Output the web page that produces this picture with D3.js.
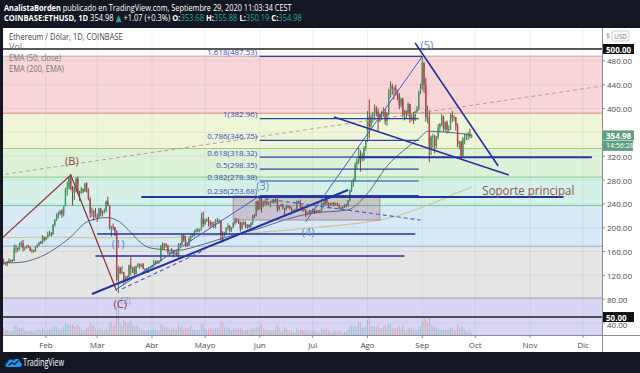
<!DOCTYPE html>
<html>
<head>
<meta charset="utf-8">
<script src="https://cdn.jsdelivr.net/npm/d3@7"></script>
<style>
html, body { margin: 0; padding: 0; background: #131722; }
svg { display: block; font-family: "Open Sans", "DejaVu Sans", sans-serif; }
</style>
</head>
<body>
<div id="chart"></div>
<script>
// ---- data (ETH/USD daily, Coinbase) ----
const startDate = "2020-01-05";

const opens = [134.2,135.1,144.3,142.8,141.0,138.2,143.6,142.2,146.0,144.1,165.4,166.2,163.7,171.2,174.0,166.3,167.0,169.3,167.9,162.2,162.5,160.6,167.9,170.4,175.5,174.0,184.7,
179.6,183.5,188.6,189.9,188.6,204.4,212.8,222.6,223.2,228.4,223.6,236.1,265.1,268.3,284.2,264.7,258.9,267.9,282.3,258.7,258.3,265.1,261.2,274.4,265.6,248.2,225.1,227.4,226.6,
218.5,217.9,231.6,224.4,224.8,228.3,244.0,237.5,199.5,201.5,200.6,194.9,112.3,133.2,123.3,125.2,110.6,117.7,117.5,136.6,132.6,132.9,122.6,135.8,138.6,136.2,138.7,130.8,131.3,125.3,132.4,
133.6,136.3,141.3,141.5,144.2,142.9,169.7,164.5,173.3,170.6,158.3,158.5,161.5,156.7,157.8,153.2,171.8,171.2,187.2,180.0,170.8,170.6,182.2,184.8,187.2,194.4,197.2,196.6,196.6,216.3,
206.4,212.6,213.4,210.5,207.1,205.9,204.2,212.1,212.1,211.9,188.7,186.9,190.2,199.4,202.6,194.6,200.0,207.2,214.2,213.2,209.8,198.3,208.8,206.9,201.0,204.5,201.1,208.6,220.8,220.6,243.7,
231.4,248.0,237.2,244.1,243.8,240.7,242.0,244.3,245.2,243.9,247.9,230.6,236.9,238.8,233.2,231.4,235.6,236.2,233.6,228.9,229.6,228.8,243.6,243.1,235.6,232.6,230.4,222.5,226.0,228.6,
226.1,231.0,228.4,226.4,228.9,227.7,241.1,238.8,246.8,242.3,240.7,239.2,241.8,239.4,241.2,238.7,233.4,232.7,235.2,238.9,236.3,245.3,262.8,274.8,279.2,305.7,311.3,321.2,317.0,318.1,334.0,
345.5,386.0,370.2,386.5,389.9,401.6,394.9,379.3,391.3,390.5,394.6,379.4,392.5,428.3,437.6,433.4,433.8,429.5,423.3,406.5,416.4,389.1,395.8,391.4,407.5,382.6,385.6,381.2,395.0,399.1,428.4,
434.9,476.9,439.7,385.7,385.8,333.9,352.6,353.6,337.1,351.8,368.1,374.0,386.8,365.7,377.4,364.8,365.5,389.0,384.4,385.6,371.1,340.8,344.6,321.0,349.5,351.9,354.9,356.4,353.68];

const highs = [138.0,144.8,145.6,148.0,141.5,144.0,148.5,146.5,146.6,171.5,171.7,167.0,175.0,178.0,179.2,168.0,170.5,171.2,168.0,164.5,162.9,168.4,172.5,176.0,177.9,187.5,185.0,
184.5,193.3,195.0,192.6,206.0,215.0,224.0,227.0,229.0,231.0,237.0,266.5,277.0,285.0,290.0,270.0,269.0,284.0,286.0,262.0,268.5,266.0,275.0,276.0,266.0,251.0,234.0,230.0,233.0,
223.0,233.0,233.5,229.0,232.0,245.5,252.0,238.0,203.0,207.0,201.0,195.5,136.0,133.7,136.0,125.5,119.0,119.5,138.0,150.0,134.5,135.0,136.0,141.0,140.0,140.0,140.5,132.0,132.0,134.0,135.0,
137.0,146.0,145.0,145.0,144.5,171.0,175.0,174.0,173.5,171.0,160.0,166.0,161.6,160.0,161.0,174.0,174.5,189.0,188.0,186.0,174.0,184.0,191.0,190.0,196.0,198.5,199.0,198.5,225.0,227.0,
215.0,216.0,218.0,212.0,210.0,210.0,214.5,216.5,214.0,212.0,194.0,193.0,201.0,207.0,204.0,201.0,210.0,216.0,216.0,215.0,210.0,210.0,211.0,210.0,206.0,206.0,209.5,221.5,223.0,245.0,246.0,
253.0,251.0,245.5,246.0,246.0,243.5,245.0,247.0,247.0,251.0,249.0,238.0,240.0,240.0,233.5,238.0,238.0,237.0,234.5,230.5,232.0,246.0,245.0,247.0,236.0,234.0,231.0,227.0,229.5,229.0,
232.5,232.0,229.0,229.5,229.0,242.0,242.5,248.0,247.0,242.5,241.5,242.5,243.0,242.0,242.0,239.0,235.0,236.5,239.5,240.0,246.5,264.0,278.0,283.0,310.0,317.0,335.0,330.0,326.0,337.0,347.0,
396.0,415.0,391.0,394.5,407.0,404.0,400.5,392.0,396.0,402.0,399.0,394.0,433.0,446.0,442.0,437.0,440.0,431.0,426.0,419.0,418.0,398.0,397.0,411.0,408.0,392.0,394.0,396.0,404.0,430.0,442.0,
487.5,478.0,451.0,405.0,397.0,355.0,358.0,356.0,354.0,374.0,376.0,391.0,388.0,379.0,380.0,372.0,392.0,396.0,389.5,386.0,375.0,346.0,346.0,352.0,358.0,358.0,361.0,366.0,355.88];

const lows = [133.5,134.8,139.6,138.0,136.8,135.2,141.0,141.2,142.3,143.9,157.5,159.5,162.0,167.0,160.0,161.6,164.7,166.4,160.4,157.6,158.4,159.2,165.4,169.0,172.5,172.4,176.2,
178.8,182.0,186.0,185.3,187.6,202.1,211.0,216.0,221.0,216.7,219.0,236.0,254.0,264.0,263.0,237.5,246.0,259.0,257.0,245.0,257.0,258.0,260.0,259.0,246.0,217.0,218.0,212.0,217.0,
210.0,216.0,219.0,219.0,224.0,226.0,236.0,197.0,185.0,196.0,186.0,110.0,90.0,122.0,122.5,103.5,108.0,111.0,115.0,120.0,124.0,120.0,121.0,133.0,131.0,134.0,130.0,124.0,124.5,124.0,130.8,
128.0,134.0,138.0,139.0,139.5,142.5,163.0,163.5,166.5,155.0,154.0,157.0,150.0,154.0,152.5,149.0,168.5,170.5,176.0,168.0,168.0,169.5,177.0,183.5,186.0,192.0,192.5,192.0,195.5,201.0,
204.0,209.5,202.0,199.0,202.0,199.0,199.0,209.0,207.0,178.0,175.0,185.0,188.0,196.0,192.0,193.0,199.0,204.0,208.0,206.0,193.0,196.5,204.0,199.0,198.0,199.0,200.0,205.0,216.0,219.0,228.0,
230.0,225.0,234.5,237.0,238.0,238.5,234.0,241.0,240.0,241.5,227.0,229.0,235.0,231.0,218.0,229.0,233.0,231.0,227.0,225.0,227.5,228.0,240.0,231.0,227.0,227.0,218.0,221.0,222.0,224.0,
224.5,223.0,224.5,225.5,224.0,227.0,237.0,237.5,237.5,235.0,237.0,237.0,236.0,236.5,237.0,230.0,231.0,231.5,233.0,234.5,235.5,244.0,260.0,269.0,278.0,298.0,307.0,294.0,311.0,312.0,329.0,
344.0,350.0,365.0,376.0,381.0,387.0,362.0,377.0,381.0,386.0,373.0,371.0,388.0,418.0,423.0,415.0,422.0,414.0,399.0,402.0,385.0,380.0,384.0,387.0,376.0,379.0,374.0,379.0,393.0,397.0,424.0,
431.0,426.0,378.0,375.0,310.0,322.0,334.0,325.0,333.0,348.0,360.0,370.0,361.0,362.0,358.0,359.0,364.0,377.0,379.0,363.0,335.0,332.0,315.0,318.0,340.0,347.0,347.0,350.0,350.19];

const closes = [135.1,144.3,142.8,141.0,138.2,143.6,142.2,146.0,144.1,165.4,166.2,163.7,171.2,174.0,166.3,167.0,169.3,167.9,162.2,162.5,160.6,167.9,170.4,175.5,174.0,184.7,179.6,
183.5,188.6,189.9,188.6,204.4,212.8,222.6,223.2,228.4,223.6,236.1,265.1,268.3,284.2,264.7,258.9,267.9,282.3,258.7,258.3,265.1,261.2,274.4,265.6,248.2,225.1,227.4,226.6,218.5,
217.9,231.6,224.4,224.8,228.3,244.0,237.5,199.5,201.5,200.6,194.9,112.3,133.2,123.3,125.2,110.6,117.7,117.5,136.6,132.6,132.9,122.6,135.8,138.6,136.2,138.7,130.8,131.3,125.3,132.4,133.6,
136.3,141.3,141.5,144.2,142.9,169.7,164.5,173.3,170.6,158.3,158.5,161.5,156.7,157.8,153.2,171.8,171.2,187.2,180.0,170.8,170.6,182.2,184.8,187.2,194.4,197.2,196.6,196.6,216.3,206.4,
212.6,213.4,210.5,207.1,205.9,204.2,212.1,212.1,211.9,188.7,186.9,190.2,199.4,202.6,194.6,200.0,207.2,214.2,213.2,209.8,198.3,208.8,206.9,201.0,204.5,201.1,208.6,220.8,220.6,243.7,231.4,
248.0,237.2,244.1,243.8,240.7,242.0,244.3,245.2,243.9,247.9,230.6,236.9,238.8,233.2,231.4,235.6,236.2,233.6,228.9,229.6,228.8,243.6,243.1,235.6,232.6,230.4,222.5,226.0,228.6,226.1,
231.0,228.4,226.4,228.9,227.7,241.1,238.8,246.8,242.3,240.7,239.2,241.8,239.4,241.2,238.7,233.4,232.7,235.2,238.9,236.3,245.3,262.8,274.8,279.2,305.7,311.3,321.2,317.0,318.1,334.0,345.5,
386.0,370.2,386.5,389.9,401.6,394.9,379.3,391.3,390.5,394.6,379.4,392.5,428.3,437.6,433.4,433.8,429.5,423.3,406.5,416.4,389.1,395.8,391.4,407.5,382.6,385.6,381.2,395.0,399.1,428.4,434.9,
476.9,439.7,385.7,385.8,333.9,352.6,353.6,337.1,351.8,368.1,374.0,386.8,365.7,377.4,364.8,365.5,389.0,384.4,385.6,371.1,340.8,344.6,321.0,349.5,351.9,354.9,356.4,353.7,354.98];

// volume, thousands of ETH
const volumes = [180,320,290,380,260,250,200,190,210,520,560,330,380,360,400,230,220,200,240,250,180,190,260,300,230,380,280,
210,300,330,310,440,420,430,320,300,380,400,620,600,530,520,560,480,430,560,420,310,200,260,390,400,620,480,520,330,
260,340,330,260,240,390,300,640,700,500,520,1500,1800,600,500,800,700,560,650,800,520,420,520,500,390,300,330,240,200,300,260,
280,330,290,260,220,560,520,420,340,420,300,300,380,300,320,560,380,500,320,400,320,400,480,300,260,250,280,260,560,600,
360,260,340,380,330,300,380,380,300,700,700,420,340,400,340,240,320,380,300,320,380,320,200,260,320,260,300,360,300,420,400,
460,560,320,300,260,200,260,220,240,300,520,340,180,200,420,300,260,220,260,160,160,380,260,300,280,240,300,180,220,220,
240,230,180,130,140,360,260,330,300,260,140,170,250,220,230,260,190,130,150,200,280,460,480,420,500,430,700,640,380,440,450,
800,1000,480,460,440,420,500,360,300,420,520,420,600,600,380,300,380,360,460,320,480,300,220,360,420,340,360,300,260,420,420,
700,900,800,650,900,560,440,450,380,340,300,300,260,320,300,300,380,380,260,280,560,400,420,420,300,200,180,280,120];

// indicator lines read at sample dates
const ema50Dates  = ["2020-01-05","2020-01-13","2020-01-31","2020-02-14","2020-02-25","2020-03-07","2020-03-11","2020-03-31","2020-04-15","2020-04-30","2020-05-15","2020-05-31","2020-06-15","2020-06-30","2020-07-21","2020-07-31","2020-08-12","2020-08-31","2020-09-04","2020-09-16","2020-09-29"];
const ema50Values = [142,141,154,182,211,217,214,166,162,172,186,198,213,224,230,254,303,352,362,360,356];
const ema200Dates  = ["2020-01-05","2020-02-03","2020-03-03","2020-03-31","2020-04-28","2020-05-26","2020-06-24","2020-07-22","2020-08-08","2020-08-19","2020-08-31","2020-09-11","2020-09-22","2020-09-29"];
const ema200Values = [183,184.5,183,183,186,191,198,206,213,221,233,246,260,268];

// background fib retracement (0 at top, 1 at bottom)
const fibTop = 488, fibBottom = 82;
const fibRatios = [0, 0.236, 0.382, 0.5, 0.618, 0.786, 1, 1.618];

// labelled fib retracement
const fibLabels = ["1.618", "1", "0.786", "0.618", "0.5", "0.382", "0.236"];
const fibPrices = [487.53, 382.96, 346.75, 318.32, 298.35, 278.38, 253.68];

// axes
const priceTicks = [40, 80, 120, 160, 200, 240, 280, 320, 360, 400, 440, 480];
const monthNames = ["Feb", "Mar", "Abr", "Mayo", "Jun", "Jul", "Ago", "Sep", "Oct", "Nov", "Dic"];

// drawings: [date, price] pairs
const waveBC = [["2020-01-06", 179.4], ["2020-02-15", 288.5], ["2020-03-12", 93.7]];
const trendMain = [["2020-02-27", 88.7], ["2020-07-21", 263.3]];
const wave23 = [["2020-03-12", 97], ["2020-05-31", 251.6]];
const wave45 = [["2020-06-27", 210], ["2020-09-01", 487.5]];
const dashedBlue = [[["2020-05-31", 250], ["2020-08-31", 212.9]], [["2020-03-15", 97], ["2020-05-01", 162.6]]];
const wedgeUpper = [["2020-08-28", 510], ["2020-10-14", 303.6]];
const wedgeLower = [["2020-07-13", 386], ["2020-10-20", 288.5]];
const dashedGray = [["2020-01-01", 286.3], ["2020-12-12", 437.9]];
const hLines = [
  { price: 318.3, from: "2020-07-27", to: "2020-12-06" },
  { price: 251.6, from: "2020-03-26", to: "2020-11-20" },
  { price: 189.4, from: "2020-03-01", to: "2020-08-28" },
  { price: 152.5, from: "2020-02-29", to: "2020-08-22" }
];
const boxCorners = [["2020-05-17", 253.2], ["2020-08-08", 212.9]];
const waveLabels = [
  { text: "(B)", at: ["2020-02-15T16:00Z", 312] },
  { text: "(1)", at: ["2020-03-12T20:00Z", 174] },
  { text: "(C)", at: ["2020-03-14T00:00Z", 72] },
  { text: "(2)", at: ["2020-03-17T00:00Z", 78] },
  { text: "(3)", at: ["2020-06-02T16:00Z", 271] },
  { text: "(4)", at: ["2020-06-28T10:00Z", 194] },
  { text: "(5)", at: ["2020-09-03T16:00Z", 507] }
];
const supportText = { text: "Soporte principal", at: ["2020-10-05T00:00Z", 255] };

// ---- setup ----
const W = 640, H = 373;
const plot = { left: 3, right: 602, top: 28, bottom: 335 };

const parseDay = d3.utcParse("%Y-%m-%d");
const toDate = s => s.length > 10 ? new Date(s) : parseDay(s);
const t0 = parseDay(startDate);
const candles = closes.map((c, i) => ({
  date: d3.utcDay.offset(t0, i), o: opens[i], h: highs[i], l: lows[i], c: c, v: volumes[i]
}));

const x = d3.scaleUtc()
  .domain([parseDay("2020-01-01"), parseDay("2020-12-01")])
  .range([-8.75, 583]);
const y = d3.scaleLinear().domain([40, 500]).range([323, 49]);
const vol = d3.scaleLinear().domain([0, d3.max(volumes)]).range([0, 34]);
const px = p => [x(toDate(p[0])), y(p[1])];

const svg = d3.select("#chart").append("svg").attr("width", W).attr("height", H);
svg.append("rect").attr("width", W).attr("height", H).attr("fill", "#131722");
svg.append("rect").attr("x", 3).attr("y", 28).attr("width", W - 3).attr("height", 352 - 28).attr("fill", "#fff");

svg.append("defs").append("clipPath").attr("id", "clip").append("rect")
  .attr("x", plot.left).attr("y", plot.top)
  .attr("width", plot.right - plot.left).attr("height", plot.bottom - plot.top);

const g = svg.append("g").attr("clip-path", "url(#clip)");

// FIB BACKGROUND BANDS
const levelPrice = r => fibTop + (fibBottom - fibTop) * r;
const bandFills = ["#f8d5d7", "#eff6d8", "#def2d8", "#d5f0e6", "#d6e9f4", "#e5e5e6", "#d8d6f3"];
const levelLines = ["#b9a3a6", "#d38b8b", "#a9c97c", "#7fcb84", "#6cc3ad", "#86acd2", "#a3a3a8", "#a39fd8"];

g.selectAll("rect.band")
  .data(fibRatios.slice(0, -1))
  .join("rect")
  .attr("class", "band")
  .attr("x", plot.left).attr("width", plot.right - plot.left)
  .attr("y", r => y(levelPrice(r)))
  .attr("height", (r, i) => y(levelPrice(fibRatios[i + 1])) - y(levelPrice(r)))
  .attr("fill", (r, i) => bandFills[i]);

// grid
const months = d3.utcMonths(parseDay("2020-02-01"), parseDay("2020-12-02"));
g.selectAll("line.vgrid").data(months).join("line")
  .attr("x1", d => x(d)).attr("x2", d => x(d))
  .attr("y1", plot.top).attr("y2", plot.bottom)
  .attr("stroke", "rgba(40,50,80,0.07)");
g.selectAll("line.hgrid").data(priceTicks).join("line")
  .attr("x1", plot.left).attr("x2", plot.right)
  .attr("y1", d => y(d)).attr("y2", d => y(d))
  .attr("stroke", "rgba(40,50,80,0.06)");

g.selectAll("line.level")
  .data(fibRatios.slice(0, -1))
  .join("line")
  .attr("x1", plot.left).attr("x2", plot.right)
  .attr("y1", r => y(levelPrice(r))).attr("y2", r => y(levelPrice(r)))
  .attr("stroke", (r, i) => levelLines[i]).attr("stroke-width", 1);

// VOLUME
g.append("g").selectAll("rect").data(candles).join("rect")
  .attr("x", d => x(d.date) - 0.5).attr("width", 1)
  .attr("y", d => plot.bottom - vol(d.v)).attr("height", d => vol(d.v))
  .attr("fill", d => d.c >= d.o ? "rgba(38,166,154,0.35)" : "rgba(239,83,80,0.35)");

// EMAs
const lineGen = d3.line().x(d => x(d[0])).y(d => y(d[1])).curve(d3.curveMonotoneX);
g.append("path")
  .attr("d", lineGen(ema200Dates.map((d, i) => [parseDay(d), ema200Values[i]])))
  .attr("fill", "none").attr("stroke", "#cfc48e").attr("stroke-width", 1.1);
g.append("path")
  .attr("d", lineGen(ema50Dates.map((d, i) => [parseDay(d), ema50Values[i]])))
  .attr("fill", "none").attr("stroke", "#4c6f8c").attr("stroke-width", 1);

// CANDLES
const cg = g.append("g");
cg.selectAll("line").data(candles).join("line")
  .attr("x1", d => x(d.date)).attr("x2", d => x(d.date))
  .attr("y1", d => y(d.h)).attr("y2", d => y(d.l))
  .attr("stroke", d => d.c >= d.o ? "#2f6e45" : "#7d2a2a").attr("stroke-width", 0.9);
cg.selectAll("rect").data(candles).join("rect")
  .attr("x", d => x(d.date) - 0.7).attr("width", 1.4)
  .attr("y", d => y(Math.max(d.o, d.c)))
  .attr("height", d => Math.max(1, Math.abs(y(d.o) - y(d.c))))
  .attr("fill", d => d.c >= d.o ? "#44965f" : "#b9404a");

// DRAWINGS
const seg = d3.line().x(p => px(p)[0]).y(p => px(p)[1]);
const blue = "#2533a0";

// dashed gray long trend
g.append("path").attr("d", seg(dashedGray)).attr("fill", "none")
  .attr("stroke", "#b89a9c").attr("stroke-width", 1).attr("stroke-dasharray", "4,3");

// consolidation box
const b0 = px(boxCorners[0]), b1 = px(boxCorners[1]);
g.append("rect").attr("x", b0[0]).attr("y", b0[1])
  .attr("width", b1[0] - b0[0]).attr("height", b1[1] - b0[1])
  .attr("fill", "rgba(150,60,80,0.22)").attr("stroke", "#a88e96").attr("stroke-width", 1);

// labelled fib lines
g.selectAll("line.fib").data(fibPrices).join("line")
  .attr("x1", x(parseDay("2020-06-01")))
  .attr("x2", (d, i) => i === 0 ? x(parseDay("2020-09-01")) : x(parseDay("2020-08-30")))
  .attr("y1", d => y(d)).attr("y2", d => y(d))
  .attr("stroke", "#3040a8").attr("stroke-width", 1.2);
g.selectAll("text.fib").data(fibPrices).join("text")
  .attr("x", x(parseDay("2020-06-01")) - 2.5)
  .attr("y", d => y(d) - 1.5)
  .attr("text-anchor", "end")
  .attr("font-size", 8).attr("fill", "#3b4bb8")
  .text((d, i) => `${fibLabels[i]}(${d.toFixed(2)})`);

// horizontal support / resistance lines
g.selectAll("line.h").data(hLines).join("line")
  .attr("x1", d => x(parseDay(d.from))).attr("x2", d => x(parseDay(d.to)))
  .attr("y1", d => y(d.price)).attr("y2", d => y(d.price))
  .attr("stroke", blue).attr("stroke-width", (d, i) => i < 2 ? 2 : 1.6);

// 500 and 50 lines
[500, 50].forEach(p => {
  g.append("line").attr("x1", plot.left).attr("x2", plot.right)
    .attr("y1", y(p)).attr("y2", y(p))
    .attr("stroke", "#222").attr("stroke-width", 1.6);
});

// wave lines
g.append("path").attr("d", seg(waveBC)).attr("fill", "none")
  .attr("stroke", "#8e2f2f").attr("stroke-width", 1.2);
g.append("path").attr("d", seg(trendMain)).attr("fill", "none")
  .attr("stroke", blue).attr("stroke-width", 2);
[wave23, wave45].forEach(l => g.append("path").attr("d", seg(l)).attr("fill", "none")
  .attr("stroke", "#3f5cc8").attr("stroke-width", 1));
dashedBlue.forEach(l => g.append("path").attr("d", seg(l)).attr("fill", "none")
  .attr("stroke", "#3f5cc8").attr("stroke-width", 1.1).attr("stroke-dasharray", "4,3"));
[wedgeUpper, wedgeLower].forEach(l => g.append("path").attr("d", seg(l)).attr("fill", "none")
  .attr("stroke", blue).attr("stroke-width", 1.6));

// wave labels
g.selectAll("text.wave").data(waveLabels).join("text")
  .attr("x", d => px(d.at)[0]).attr("y", d => px(d.at)[1])
  .attr("text-anchor", "middle").attr("dominant-baseline", "central")
  .attr("font-size", d => d.text === "(2)" ? 9 : 11)
  .attr("fill", d => d.text === "(B)" ? "#8b4a32" : d.text === "(C)" ? "#8b3357" : "#5a86c8")
  .attr("opacity", d => d.text === "(2)" ? 0.6 : 1)
  .text(d => d.text);

g.append("text")
  .attr("x", px(supportText.at)[0]).attr("y", px(supportText.at)[1])
  .attr("font-size", 12.5).attr("fill", "#905555")
  .attr("textLength", 92).attr("lengthAdjust", "spacingAndGlyphs")
  .text(supportText.text);

// squeeze a text element horizontally to a target width
function fitWidth(sel, x0, y0, width) {
  const w = sel.node().getComputedTextLength();
  sel.attr("x", 0).attr("y", 0)
    .attr("transform", `translate(${x0},${y0}) scale(${width / w},1)`);
}

// LEGEND
const legend = svg.append("g").attr("font-size", 9);
fitWidth(legend.append("text").attr("fill", "#444").text("Ethereum / Dólar, 1D, COINBASE"), 9, 39.5, 114);
legend.append("text").attr("x", 9).attr("y", 50).attr("fill", "#777").text("Vol");
fitWidth(legend.append("text").attr("fill", "#777").text("EMA (50, close)"), 9, 60.5, 52);
fitWidth(legend.append("text").attr("fill", "#777").text("EMA (200, EMA)"), 9, 72, 55);

// AXES FRAME
svg.append("line").attr("x1", plot.right + 0.5).attr("x2", plot.right + 0.5)
  .attr("y1", plot.top).attr("y2", 352).attr("stroke", "#8a8d96");
svg.append("line").attr("x1", plot.left).attr("x2", W)
  .attr("y1", plot.bottom + 0.5).attr("y2", plot.bottom + 0.5).attr("stroke", "#8a8d96");

const tags = [
  { price: 500, text: "500.00", fill: "#111" },
  { price: 354.98, text: "354.98", fill: "#5e9f7f" },
  { price: 354.98, dy: 10.5, text: "14:56:28", fill: "#5e9f7f" },
  { price: 50, text: "50.00", fill: "#111" }
];

// price axis labels (the one under the last-price tag is hidden, as on the original;
// 40.00 peeks out below the 50.00 tag)
const shownTicks = priceTicks.filter(t => Math.abs(y(t) - y(354.98)) > 8);
const axisG = svg.append("g").attr("font-size", 8).attr("fill", "#4a4a4a");
axisG.selectAll("text").data(shownTicks).join("text")
  .attr("x", 607).attr("y", d => d === 40 ? y(d) + 1.5 : y(d))
  .attr("dominant-baseline", "central").text(d => d.toFixed(2));
axisG.selectAll("line").data(priceTicks).join("line")
  .attr("x1", plot.right).attr("x2", plot.right + 3)
  .attr("y1", d => y(d)).attr("y2", d => y(d)).attr("stroke", "#8a8d96");

svg.append("text").attr("x", 606).attr("y", 38).attr("font-size", 7).attr("fill", "#888").text("$");
svg.append("rect").attr("x", 612).attr("y", 31).attr("width", 17).attr("height", 10).attr("rx", 2)
  .attr("fill", "#fff").attr("stroke", "#ccc");
svg.append("text").attr("x", 620.5).attr("y", 36.3).attr("font-size", 6.5).attr("fill", "#777")
  .attr("text-anchor", "middle").attr("dominant-baseline", "central").text("USD");

const tagG = svg.append("g").selectAll("g").data(tags).join("g")
  .attr("transform", d => `translate(${plot.right + 1},${y(d.price) + (d.dy || 0)})`);
tagG.append("rect").attr("x", 0).attr("y", -5)
  .attr("width", d => d.text.length > 6 ? 30 : 31).attr("height", 10).attr("fill", d => d.fill);
tagG.append("text").attr("x", 3).attr("y", 0)
  .attr("dominant-baseline", "central")
  .attr("font-size", d => d.text.length > 6 ? 7 : 8)
  .attr("font-weight", d => d.text.length > 6 ? "normal" : "bold")
  .attr("fill", "#fff").text(d => d.text);

// time axis
const timeG = svg.append("g").attr("font-size", 8).attr("fill", "#4a4a4a");
timeG.selectAll("text").data(months).join("text")
  .attr("x", d => x(d)).attr("y", 344).attr("text-anchor", "middle")
  .attr("dominant-baseline", "central").text((d, i) => monthNames[i]);
timeG.selectAll("line").data(months).join("line")
  .attr("x1", d => x(d)).attr("x2", d => x(d))
  .attr("y1", plot.bottom).attr("y2", plot.bottom + 3).attr("stroke", "#8a8d96");

// HEADER
const teal = "#26a69a";
const h1 = svg.append("text").attr("font-size", 9.5).attr("fill", "#fff");
h1.append("tspan").attr("font-weight", "bold").text("AnalistaBorden");
h1.append("tspan").text(" publicado en TradingView.com, Septiembre 29, 2020 11:03:34 CEST");
fitWidth(h1, 4, 11, 288);

const h2parts = [
  ["COINBASE:ETHUSD, 1D", "#fff", "bold"], [" 354.98 ", "#fff", "normal"], ["▲", teal, "normal"],
  [" +1.07 (+0.3%) ", "#fff", "normal"], ["O:", "#fff", "bold"], ["353.68", teal, "normal"],
  [" H:", "#fff", "bold"], ["355.88", teal, "normal"], [" L:", "#fff", "bold"], ["350.19", teal, "normal"],
  [" C:", "#fff", "bold"], ["354.98", teal, "normal"]
];
const h2 = svg.append("text").attr("font-size", 9.5);
h2.selectAll("tspan").data(h2parts).join("tspan")
  .attr("fill", d => d[1]).attr("font-weight", d => d[2]).text(d => d[0]);
fitWidth(h2, 4, 21, 298);

// FOOTER LOGO
const logo = svg.append("g").attr("transform", "translate(5,356)");
logo.append("path")
  .attr("d", "M2,11 C0,11 0,7 2.5,7 C2.5,3.5 7,2.5 8.5,5 C10,1.5 15.5,2.5 15,6.5 C17.5,6.5 17.5,11 15,11 Z")
  .attr("fill", "#2196f3");
logo.append("path").attr("d", "M3.5,9.5 L7,6.5 L9.5,8.5 L13.5,4.5")
  .attr("fill", "none").attr("stroke", "#131722").attr("stroke-width", 1.1);
fitWidth(svg.append("text").attr("font-size", 10).attr("fill", "#fff").text("TradingView"), 23, 366, 41);
</script>
</body>
</html>
